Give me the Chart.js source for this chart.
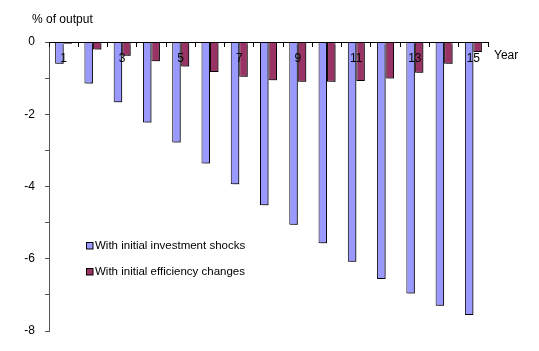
<!DOCTYPE html>
<html>
<head>
<meta charset="utf-8">
<script src="https://cdn.jsdelivr.net/npm/chart.js@4.4.1/dist/chart.umd.min.js"></script>
<style>
  html, body { margin: 0; padding: 0; background: #fff; }
  #wrap { width: 539px; height: 351px; }
</style>
</head>
<body>
<div id="wrap"><canvas id="chart" width="539" height="351"></canvas></div>
<script>
// data
const years = ['1','2','3','4','5','6','7','8','9','10','11','12','13','14','15'];
const investmentShocks = [-0.60, -1.15, -1.67, -2.23, -2.78, -3.36, -3.94, -4.52, -5.06, -5.57, -6.08, -6.56, -6.96, -7.30, -7.56];
const efficiencyChanges = [-0.05, -0.21, -0.38, -0.53, -0.68, -0.83, -0.96, -1.06, -1.10, -1.10, -1.08, -1.01, -0.85, -0.60, -0.28];
const yTicks = [0, -2, -4, -6, -8];

const FONT = 'Liberation Sans, Arial, sans-serif';

// bar shadow like the old spreadsheet chart
const shadowPlugin = {
    id: 'barShadow',
    beforeDatasetsDraw(chart) {
        const ctx = chart.ctx;
        ctx.save();
        ctx.shadowColor = 'rgba(0,0,0,0.45)';
        ctx.shadowOffsetX = 2;
        ctx.shadowOffsetY = 1;
        ctx.shadowBlur = 1;
    },
    afterDatasetsDraw(chart) {
        chart.ctx.restore();
    }
};

// texts and the legend inside the plot
const textPlugin = {
    id: 'texts',
    afterDraw(chart) {
        const ctx = chart.ctx;
        ctx.save();
        ctx.fillStyle = '#000';
        ctx.textBaseline = 'middle';
        ctx.textAlign = 'left';
        ctx.font = '12px ' + FONT;
        ctx.fillText('% of output', 32, 20);
        ctx.fillText('Year', 494, 56);

        ctx.font = '11.5px ' + FONT;
        chart.data.datasets.forEach(function(ds, i) {
            const y = 246 + i * 26;
            ctx.fillStyle = ds.backgroundColor;
            ctx.fillRect(86.5, y - 3.5, 6.5, 6.5);
            ctx.strokeStyle = '#000';
            ctx.lineWidth = 1;
            ctx.strokeRect(86.5, y - 3.5, 6.5, 6.5);
            ctx.fillStyle = '#000';
            ctx.fillText(ds.label, 95, y);
        });
        ctx.restore();
    }
};

const ctx = document.getElementById('chart').getContext('2d');
new Chart(ctx, {
    type: 'bar',
    data: {
        labels: years,
        datasets: [{
            label: 'With initial investment shocks',
            data: investmentShocks,
            backgroundColor: '#9999ff',
            borderColor: '#000',
            borderWidth: 1
        }, {
            label: 'With initial efficiency changes',
            data: efficiencyChanges,
            backgroundColor: '#993366',
            borderColor: '#000',
            borderWidth: 1
        }]
    },
    options: {
        responsive: false,
        animation: false,
        devicePixelRatio: 1,
        layout: { padding: { left: 0, right: 51, top: 42, bottom: 20 } },
        datasets: {
            bar: { categoryPercentage: 0.58, barPercentage: 1 }
        },
        plugins: {
            legend: { display: false },
            tooltip: { enabled: false }
        },
        scales: {
            x: {
                position: { y: 0 },
                offset: true,
                grid: { display: true, drawOnChartArea: false, drawTicks: true, tickLength: 4, color: '#000', offset: true, z: 1 },
                border: { color: '#000', width: 1, z: 1 },
                ticks: {
                    z: 1,
                    autoSkip: false,
                    maxRotation: 0,
                    padding: 5,
                    color: '#000',
                    font: { family: FONT, size: 12 },
                    callback: function(v, i) { return i % 2 === 0 ? years[i] : ''; }
                }
            },
            y: {
                min: -8,
                max: 0,
                afterFit: function(scale) { scale.width = 49; },
                grid: { display: true, drawOnChartArea: false, drawTicks: true, tickLength: 4, color: '#555' },
                border: { color: '#555', width: 1 },
                ticks: {
                    stepSize: 1,
                    padding: 10,
                    color: '#000',
                    font: { family: FONT, size: 12 },
                    callback: function(v) { return yTicks.includes(v) ? String(v) : ''; }
                }
            }
        }
    },
    plugins: [shadowPlugin, textPlugin]
});
</script>
</body>
</html>
